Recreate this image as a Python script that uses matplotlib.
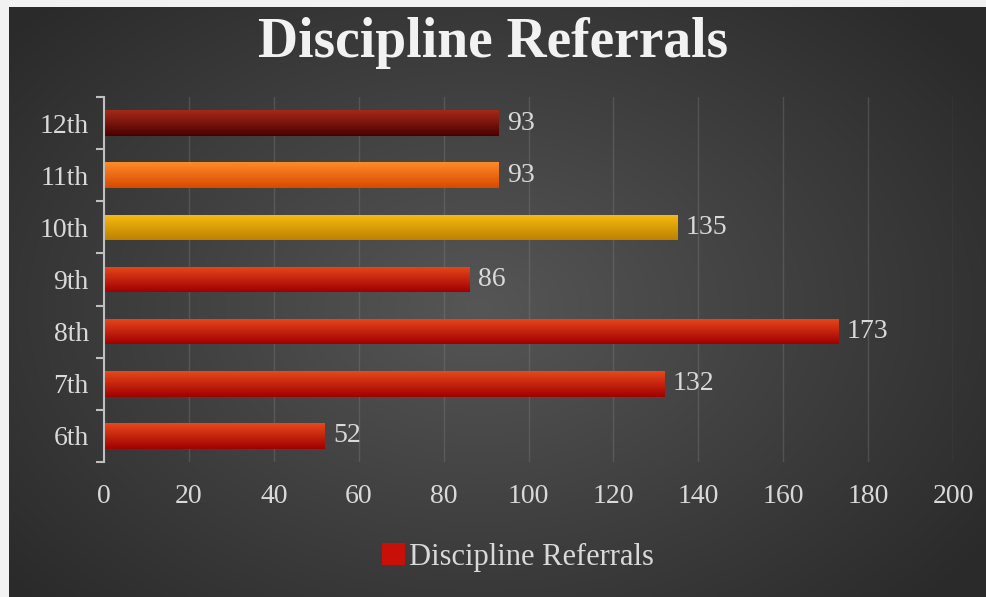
import numpy as np
import matplotlib
matplotlib.use("Agg")
import matplotlib.pyplot as plt
from matplotlib.colors import LinearSegmentedColormap
from matplotlib.patches import Patch

grades = ['6th', '7th', '8th', '9th', '10th', '11th', '12th']
referrals = [52, 132, 173, 86, 135, 93, 93]
bar_tops = ['#e8481a', '#e8481a', '#e8481a', '#e8481a', '#f5bd10', '#ff8a2a', '#a52a18']
bar_bottoms = ['#a00000', '#a00000', '#a00000', '#a00000', '#c08000', '#d84a00', '#4a0000']
x_ticks = [0, 20, 40, 60, 80, 100, 120, 140, 160, 180, 200]
title = 'Discipline Referrals'
series_name = 'Discipline Referrals'

W, H = 986, 597
fig = plt.figure(figsize=(W / 100, H / 100), dpi=100)
fig.patch.set_facecolor('#f2f2f2')

# background panel with radial gradient
bg = fig.add_axes([9 / W, 0, (W - 9) / W, (H - 7) / H])
bg.set_axis_off()
yy, xx = np.mgrid[0:590, 0:977]
cx, cy = 470, 300
r = np.sqrt(((xx - cx) / 620.0) ** 2 + ((yy - cy) / 430.0) ** 2)
r = np.clip(r, 0, 1)
c0 = np.array([0x56, 0x56, 0x56]) / 255.0
c1 = np.array([0x2a, 0x2a, 0x2a]) / 255.0
img = c0[None, None, :] * (1 - r[..., None]) + c1[None, None, :] * r[..., None]
bg.imshow(img, aspect='auto', extent=[0, 1, 0, 1], interpolation='bilinear')
bg.set_xlim(0, 1)
bg.set_ylim(0, 1)

serif = ['Liberation Serif', 'DejaVu Serif']
txt = '#d9d9d9'
fs = 20

ax = fig.add_axes([104 / W, 1 - 462 / H, (953 - 104) / W, (462 - 97) / H])
ax.patch.set_alpha(0)
ypos = np.arange(len(grades))
bars = ax.barh(ypos, referrals, height=0.49, color='none', edgecolor='none', zorder=3)

grad = np.linspace(0, 1, 64).reshape(-1, 1)
for b, top, bot, v in zip(bars, bar_tops, bar_bottoms, referrals):
    x0, y0 = b.get_x(), b.get_y()
    w, h = b.get_width(), b.get_height()
    cmap = LinearSegmentedColormap.from_list('g', [bot, top])
    im = ax.imshow(grad, cmap=cmap, aspect='auto', origin='lower',
                   extent=[x0, x0 + w, y0, y0 + h], zorder=3, interpolation='bilinear')
    im.set_clip_path(b)
    ax.text(v + 2.0, y0 + h / 2, str(v), va='center', ha='left',
            fontsize=fs, color=txt, family=serif, zorder=4)

ax.set_xlim(0, 200)
ax.set_ylim(-0.5, len(grades) - 0.5)
ax.set_xticks(x_ticks)
ax.set_xticklabels([str(t) for t in x_ticks], fontsize=fs, color=txt, family=serif)
ax.set_yticks(ypos)
ax.set_yticklabels(grades, fontsize=fs, color=txt, family=serif)
ax.set_yticks(np.arange(-0.5, len(grades), 1.0), minor=True)
ax.tick_params(axis='x', length=0, pad=16)
ax.tick_params(axis='y', which='major', length=0, pad=11)
ax.tick_params(axis='y', which='minor', length=6, color='#bfbfbf', width=1.5)
ax.grid(axis='x', color='#8a8a8a', alpha=0.3, linewidth=1, zorder=0)
for s in ['top', 'right', 'bottom']:
    ax.spines[s].set_visible(False)
ax.spines['left'].set_color('#bfbfbf')
ax.spines['left'].set_linewidth(1.5)
ax.spines['left'].set_zorder(5)

fig.text(0.5, 1 - 57 / H, title, ha='center', va='baseline', fontsize=40,
         fontweight='bold', color='#f2f2f2', family=serif)

# legend
leg = fig.legend(handles=[Patch(facecolor='#c81008', edgecolor='none', label=series_name)],
                 loc='center', bbox_to_anchor=(518 / W, 1 - 557 / H), frameon=False,
                 prop={'family': serif, 'size': 22}, handlelength=0.75, handleheight=0.75,
                 handletextpad=0.12)
for t in leg.get_texts():
    t.set_color(txt)

fig.savefig('out.png', dpi=100, facecolor=fig.get_facecolor())
